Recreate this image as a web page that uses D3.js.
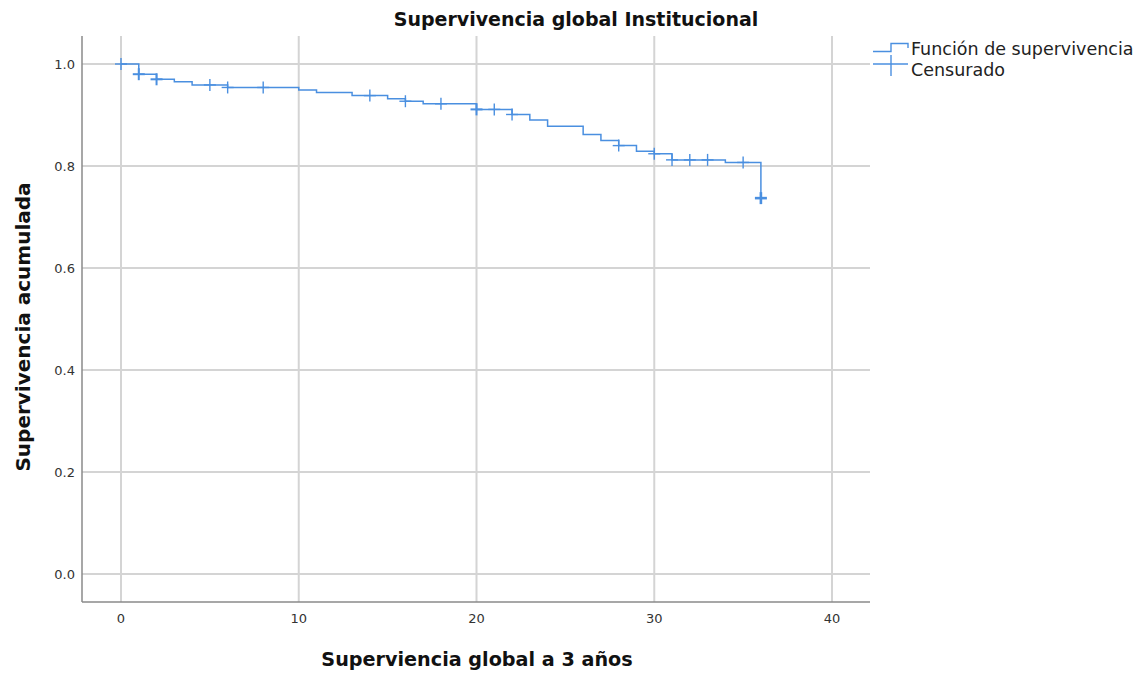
<!DOCTYPE html>
<html>
<head>
<meta charset="utf-8">
<script src="https://cdn.jsdelivr.net/npm/d3@7"></script>
<style>
  body { margin: 0; background: #fff; }
  text { font-family: "DejaVu Sans", "Open Sans", sans-serif; }
</style>
</head>
<body>
<div id="chart"></div>
<script>
// Kaplan-Meier steps: time of event and survival right after it
const stepTimes = [0, 1, 2, 3, 4, 6, 10, 11, 13, 15, 16, 17, 20, 22, 23, 24, 26, 27, 28, 29, 30, 31, 34, 36];
const stepSurv  = [1.0, 0.980, 0.970, 0.965, 0.959, 0.954, 0.949, 0.944, 0.938, 0.932, 0.927, 0.922, 0.911, 0.901, 0.890, 0.878, 0.862, 0.850, 0.840, 0.829, 0.824, 0.812, 0.807, 0.737];
// censored observations
const censorTimes = [0, 1, 2, 5, 6, 8, 14, 16, 18, 20, 21, 22, 28, 30, 31, 32, 33, 35, 36];
const censorCount = [1, 2, 2, 1, 1, 1, 1, 1, 1, 2, 1, 1, 1, 1, 1, 1, 1, 1, 3];
const xTicks = [0, 10, 20, 30, 40];
const yTicks = [0.0, 0.2, 0.4, 0.6, 0.8, 1.0];

const width = 1140, height = 673;
const plotLeft = 82, plotRight = 870, plotTop = 36, plotBottom = 602;
const blue = "#4a8fe0";

const svg = d3.select("#chart").append("svg")
    .attr("width", width)
    .attr("height", height);

const x = d3.scaleLinear().domain([0, 40]).range([121, 832]);
const y = d3.scaleLinear().domain([0, 1]).range([574, 64]);

// grid
svg.append("g").selectAll("line")
    .data(xTicks)
    .join("line")
    .attr("x1", d => x(d)).attr("x2", d => x(d))
    .attr("y1", plotTop).attr("y2", plotBottom)
    .attr("stroke", "#d4d4d4").attr("stroke-width", 2);

svg.append("g").selectAll("line")
    .data(yTicks)
    .join("line")
    .attr("x1", plotLeft).attr("x2", plotRight)
    .attr("y1", d => y(d)).attr("y2", d => y(d))
    .attr("stroke", "#d4d4d4").attr("stroke-width", 2);

// axis lines
svg.append("line")
    .attr("x1", plotLeft).attr("x2", plotLeft).attr("y1", plotTop).attr("y2", plotBottom)
    .attr("stroke", "#8a8a8a").attr("stroke-width", 1.5);
svg.append("line")
    .attr("x1", plotLeft).attr("x2", plotRight).attr("y1", plotBottom).attr("y2", plotBottom)
    .attr("stroke", "#8a8a8a").attr("stroke-width", 1.5);

// tick labels
svg.append("g").selectAll("text")
    .data(xTicks)
    .join("text")
    .attr("x", d => x(d))
    .attr("y", 623)
    .attr("text-anchor", "middle")
    .attr("font-size", 13)
    .attr("fill", "#333")
    .text(d => d);

svg.append("g").selectAll("text")
    .data(yTicks)
    .join("text")
    .attr("x", 75)
    .attr("y", d => y(d) + 5)
    .attr("text-anchor", "end")
    .attr("font-size", 13)
    .attr("fill", "#333")
    .text(d3.format(".1f"));

// survival step line
const pts = stepTimes.map((t, i) => [t, stepSurv[i]]);
const line = d3.line()
    .x(d => x(d[0]))
    .y(d => y(d[1]))
    .curve(d3.curveStepAfter);

svg.append("path")
    .datum(pts)
    .attr("d", line)
    .attr("fill", "none")
    .attr("stroke", blue)
    .attr("stroke-width", 1.5);

// survival at a given time
function survAt(t) {
    let s = 1;
    stepTimes.forEach((st, i) => { if (st <= t) s = stepSurv[i]; });
    return s;
}

// censor marks
const cens = svg.append("g").selectAll("g")
    .data(censorTimes.map((t, i) => ({ t: t, n: censorCount[i] })))
    .join("g")
    .attr("transform", d => `translate(${x(d.t)},${y(survAt(d.t))})`)
    .attr("stroke", blue)
    .attr("stroke-width", d => d.n > 2 ? 2.6 : (d.n > 1 ? 2 : 1.4));
cens.append("line").attr("x1", -6).attr("x2", 6);
cens.append("line").attr("y1", -6).attr("y2", 6);

// titles
svg.append("text")
    .attr("x", 576).attr("y", 26)
    .attr("text-anchor", "middle")
    .attr("font-size", 19)
    .attr("font-weight", "bold")
    .attr("fill", "#111")
    .text("Supervivencia global Institucional");

svg.append("text")
    .attr("x", 477).attr("y", 666)
    .attr("text-anchor", "middle")
    .attr("font-size", 19.2)
    .attr("font-weight", "bold")
    .attr("fill", "#111")
    .text("Superviencia global a 3 años");

svg.append("text")
    .attr("transform", "translate(30,327) rotate(-90)")
    .attr("text-anchor", "middle")
    .attr("font-size", 20)
    .attr("font-weight", "bold")
    .attr("fill", "#111")
    .text("Supervivencia acumulada");

// legend
const lg = svg.append("g");
lg.append("path")
    .attr("d", "M873,51.5 H891 V43.5 H908 V48")
    .attr("fill", "none")
    .attr("stroke", blue)
    .attr("stroke-width", 1.4);
lg.append("text")
    .attr("x", 911).attr("y", 55)
    .attr("font-size", 17.5)
    .attr("fill", "#222")
    .text("Función de supervivencia");
lg.append("line")
    .attr("x1", 873).attr("x2", 908).attr("y1", 64).attr("y2", 64)
    .attr("stroke", blue).attr("stroke-width", 1.4);
lg.append("line")
    .attr("x1", 891).attr("x2", 891).attr("y1", 55).attr("y2", 76)
    .attr("stroke", blue).attr("stroke-width", 1.4);
lg.append("text")
    .attr("x", 911).attr("y", 76)
    .attr("font-size", 17.5)
    .attr("fill", "#222")
    .text("Censurado");
</script>
</body>
</html>
